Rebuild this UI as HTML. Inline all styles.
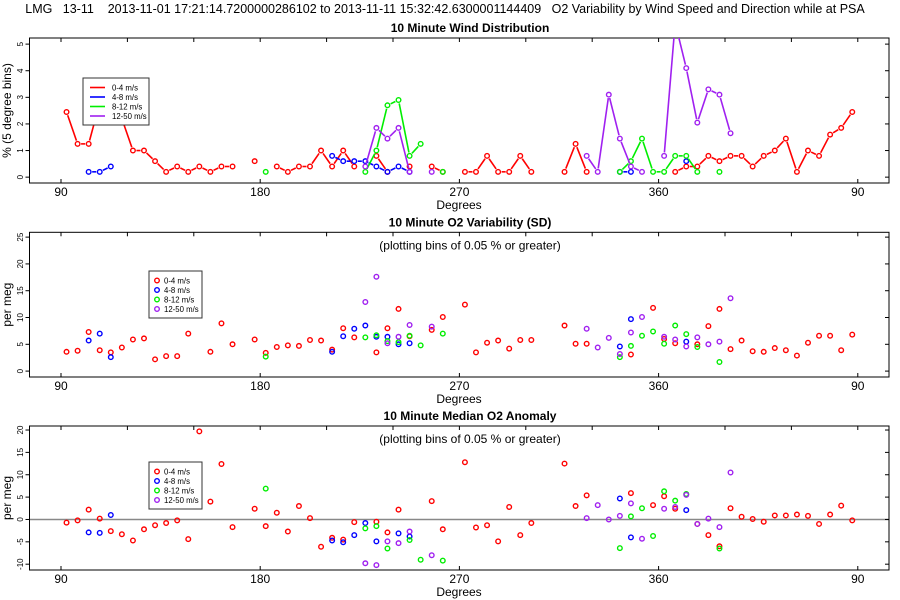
<!DOCTYPE html>
<html><head><meta charset="utf-8"><style>
html,body{margin:0;padding:0;background:#fff;}
svg{display:block;font-family:"Liberation Sans",sans-serif;}
</style></head><body>
<svg id="chart" width="900" height="600" viewBox="0 0 900 600" xmlns="http://www.w3.org/2000/svg">
<text x="445" y="13" font-size="12.5" text-anchor="middle" style="white-space:pre" xml:space="preserve">LMG   13-11    2013-11-01 17:21:14.7200000286102 to 2013-11-11 15:32:42.6300001144409   O2 Variability by Wind Speed and Direction while at PSA</text>
</svg>
<script>
// ---- data (degree bins, 5-degree centers; values > 360 wrap past north) ----
const seriesNames = ["0-4 m/s","4-8 m/s","8-12 m/s","12-50 m/s"];
const seriesColors = ["#ff0000","#0000ff","#00ee00","#a020f0"];
const xTickLabels = ["90","180","270","360","90"];
const xTickDegrees = [90,180,270,360,450];

// Panel 1: wind distribution (% per 5-degree bin)
const distRedDeg = [92.5,97.5,102.5,107.5,112.5,117.5,122.5,127.5,132.5,137.5,142.5,147.5,152.5,157.5,162.5,167.5,177.5,187.5,192.5,197.5,202.5,207.5,212.5,217.5,222.5,232.5,237.5,247.5,257.5,262.5,272.5,277.5,282.5,287.5,292.5,297.5,302.5,317.5,322.5,327.5,367.5,372.5,377.5,382.5,387.5,392.5,397.5,402.5,407.5,412.5,417.5,422.5,427.5,432.5,437.5,442.5,447.5];
const distRedVal = [2.45,1.25,1.25,2.8,2.6,2.2,1.0,1.0,0.6,0.2,0.4,0.2,0.4,0.2,0.4,0.4,0.6,0.4,0.2,0.4,0.4,1.0,0.4,1.0,0.4,0.8,0.2,0.4,0.4,0.2,0.2,0.2,0.8,0.2,0.2,0.8,0.2,0.2,1.25,0.2,0.2,0.4,0.4,0.8,0.6,0.8,0.8,0.4,0.8,1.0,1.45,0.2,1.0,0.8,1.6,1.85,2.45];
const distBlueDeg = [102.5,107.5,112.5,212.5,217.5,222.5,227.5,232.5,237.5,242.5,247.5,342.5,347.5,372.5];
const distBlueVal = [0.2,0.2,0.4,0.8,0.6,0.6,0.6,0.4,0.2,0.4,0.2,0.2,0.2,0.6];
const distGreenDeg = [182.5,227.5,232.5,237.5,242.5,247.5,252.5,262.5,342.5,347.5,352.5,357.5,362.5,367.5,372.5,377.5,387.5];
const distGreenVal = [0.2,0.2,1.0,2.7,2.9,0.8,1.25,0.2,0.2,0.6,1.45,0.2,0.2,0.8,0.8,0.2,0.2];
const distPurpleDeg = [227.5,232.5,237.5,242.5,247.5,257.5,327.5,332.5,337.5,342.5,347.5,352.5,362.5,367.5,372.5,377.5,382.5,387.5,392.5];
const distPurpleVal = [0.4,1.85,1.45,1.85,0.2,0.2,0.8,0.2,3.1,1.45,0.4,0.2,0.8,5.8,4.1,2.05,3.3,3.1,1.65];

// Panel 2: O2 variability (SD, per meg)
const sdRedDeg = [92.5,97.5,102.5,107.5,112.5,117.5,122.5,127.5,132.5,137.5,142.5,147.5,157.5,162.5,167.5,177.5,182.5,187.5,192.5,197.5,202.5,207.5,212.5,217.5,222.5,232.5,237.5,242.5,247.5,257.5,262.5,272.5,277.5,282.5,287.5,292.5,297.5,302.5,317.5,322.5,327.5,347.5,357.5,362.5,367.5,377.5,382.5,387.5,392.5,397.5,402.5,407.5,412.5,417.5,422.5,427.5,432.5,437.5,442.5,447.5];
const sdRedVal = [3.6,3.8,7.3,3.9,3.5,4.4,5.9,6.1,2.2,2.8,2.8,7.0,3.6,8.9,5.0,5.9,3.4,4.5,4.8,4.7,5.8,5.7,4.0,8.0,6.3,3.5,8.0,11.6,6.5,7.7,10.1,12.4,3.5,5.3,5.7,4.2,5.8,5.8,8.5,5.1,5.1,3.1,11.8,6.0,5.2,5.0,8.4,11.6,4.1,5.7,3.7,3.6,4.3,3.9,2.9,5.3,6.6,6.6,3.9,6.8];
const sdBlueDeg = [102.5,107.5,112.5,212.5,217.5,222.5,227.5,232.5,237.5,242.5,247.5,342.5,347.5,372.5];
const sdBlueVal = [5.7,7.0,2.6,3.6,6.5,7.9,8.5,6.4,6.4,5.0,5.2,4.6,9.7,5.5];
const sdGreenDeg = [182.5,227.5,232.5,237.5,242.5,247.5,252.5,262.5,342.5,347.5,352.5,357.5,362.5,367.5,372.5,377.5,387.5];
const sdGreenVal = [2.7,6.3,6.7,5.6,5.4,6.6,4.8,7.0,2.6,4.7,6.6,7.4,5.1,8.5,6.9,4.5,1.7];
const sdPurpleDeg = [227.5,232.5,237.5,242.5,247.5,257.5,327.5,332.5,337.5,342.5,347.5,352.5,362.5,367.5,372.5,377.5,382.5,387.5,392.5];
const sdPurpleVal = [12.9,17.6,5.2,6.4,8.6,8.3,7.9,4.4,6.2,3.2,7.2,10.1,6.4,5.9,4.6,6.3,5.0,5.5,13.6];

// Panel 3: median O2 anomaly (per meg)
const anRedDeg = [92.5,97.5,102.5,107.5,112.5,117.5,122.5,127.5,132.5,137.5,142.5,147.5,152.5,157.5,162.5,167.5,177.5,182.5,187.5,192.5,197.5,202.5,207.5,212.5,217.5,222.5,232.5,237.5,242.5,257.5,262.5,272.5,277.5,282.5,287.5,292.5,297.5,302.5,317.5,322.5,327.5,347.5,357.5,362.5,367.5,377.5,382.5,387.5,392.5,397.5,402.5,407.5,412.5,417.5,422.5,427.5,432.5,437.5,442.5,447.5];
const anRedVal = [-0.7,-0.2,2.2,0.2,-2.6,-3.3,-4.7,-2.2,-1.3,-0.8,-0.2,-4.4,19.7,4.0,12.4,-1.7,2.4,-1.5,1.5,-2.7,3.0,0.3,-6.1,-4.1,-4.5,-0.6,-0.5,-2.9,2.2,4.1,-2.2,12.8,-1.8,-1.3,-4.9,2.8,-3.5,-0.8,12.5,3.0,5.4,5.9,3.2,5.2,2.4,-1.0,-3.5,-6.0,2.5,0.6,0.1,-0.5,0.9,0.9,1.1,0.8,-1.0,1.1,3.1,-0.2];
const anBlueDeg = [102.5,107.5,112.5,212.5,217.5,222.5,227.5,232.5,242.5,247.5,342.5,347.5,372.5];
const anBlueVal = [-2.9,-3.0,1.0,-4.7,-5.1,-3.5,-0.8,-4.9,-3.1,-3.8,4.7,-4.0,2.1];
const anGreenDeg = [182.5,227.5,232.5,237.5,247.5,252.5,262.5,342.5,347.5,352.5,357.5,362.5,367.5,372.5,387.5];
const anGreenVal = [6.9,-2.0,-1.5,-6.5,-4.6,-9.0,-9.2,-6.4,0.7,2.5,-3.7,6.3,4.2,5.7,-6.5];
const anPurpleDeg = [227.5,232.5,237.5,242.5,247.5,257.5,327.5,332.5,337.5,342.5,347.5,352.5,362.5,367.5,372.5,377.5,382.5,387.5,392.5];
const anPurpleVal = [-9.8,-10.2,-4.9,-5.3,-2.7,-8.0,0.3,3.2,0.0,0.8,3.6,-4.3,2.4,2.8,5.5,-1.0,0.2,-1.7,10.5];

// ---- drawing ----
const NS = "http://www.w3.org/2000/svg";
const svg = document.getElementById('chart');
const L = 29.5, R = 889;
function xs(d){ return 61 + (d-90)*2.2133; }
function mk(tag, attrs, parent){
  const e = document.createElementNS(NS, tag);
  for (const k in attrs) e.setAttribute(k, attrs[k]);
  (parent||svg).appendChild(e);
  return e;
}
function txt(s, attrs, parent){ const e = mk('text', attrs, parent); e.textContent = s; return e; }
const defs = mk('defs', {});

const panels = [
  {top:38, bot:183, ymin:-0.22, ymax:5.23, yticks:[0,1,2,3,4,5], title:"10 Minute Wind Distribution", ylab:"% (5 degree bins)", lines:true, sub:false, zero:false,
   data:[[distRedDeg,distRedVal],[distBlueDeg,distBlueVal],[distGreenDeg,distGreenVal],[distPurpleDeg,distPurpleVal]], legend:[83,78,66,47], name:"wind-distribution"},
  {top:232.3, bot:377, ymin:-1.1, ymax:25.9, yticks:[0,5,10,15,20,25], title:"10 Minute O2 Variability (SD)", ylab:"per meg", lines:false, sub:true, zero:false,
   data:[[sdRedDeg,sdRedVal],[sdBlueDeg,sdBlueVal],[sdGreenDeg,sdGreenVal],[sdPurpleDeg,sdPurpleVal]], legend:[149,271,53,47], name:"o2-variability"},
  {top:426, bot:570, ymin:-11.3, ymax:20.9, yticks:[-10,-5,0,5,10,15,20], title:"10 Minute Median O2 Anomaly", ylab:"per meg", lines:false, sub:true, zero:true,
   data:[[anRedDeg,anRedVal],[anBlueDeg,anBlueVal],[anGreenDeg,anGreenVal],[anPurpleDeg,anPurpleVal]], legend:[149,462,53,47], name:"o2-anomaly"}
];

panels.forEach((p, pi) => {
  const g = mk('g', {});
  
  
  const cp = mk('clipPath', {id:'clip'+pi}, defs);
  mk('rect', {x:L, y:p.top, width:R-L, height:p.bot-p.top}, cp);
  const ys = v => p.bot - (v - p.ymin) / (p.ymax - p.ymin) * (p.bot - p.top);
  const t = txt(p.title, {x:470, y:p.top-6, 'font-size':12, 'font-weight':'bold', 'text-anchor':'middle'}, g);
  
  
  if (p.sub) {
    const s = txt("(plotting bins of 0.05 % or greater)", {x:470, y:p.top+17, 'font-size':12, 'text-anchor':'middle'}, g);
    
    
  }
  if (p.zero) {
    const z = mk('line', {x1:L, x2:R, y1:ys(0), y2:ys(0), stroke:'#888', 'stroke-width':1.5}, g);
    
    
  }
  const frame = mk('rect', {x:L, y:p.top, width:R-L, height:p.bot-p.top, fill:'none', stroke:'#000', 'stroke-width':1}, g);
  
  
  for (let d = 90; d <= 450; d += 30) {
    mk('line', {x1:xs(d), x2:xs(d), y1:p.top, y2:p.top+4, stroke:'#000'}, g);
  }
  xTickDegrees.forEach((d,i) => {
    mk('line', {x1:xs(d), x2:xs(d), y1:p.bot, y2:p.bot-4, stroke:'#000'}, g);
    const l = txt(xTickLabels[i], {x:xs(d), y:p.bot+13, 'font-size':12, 'text-anchor':'middle'}, g);
    
    
  });
  const xl = txt("Degrees", {x:459, y:p.bot+26, 'font-size':12, 'text-anchor':'middle'}, g);
  
  
  p.yticks.forEach(v => {
    const y = ys(v);
    mk('line', {x1:L-4, x2:L, y1:y, y2:y, stroke:'#000'}, g);
    mk('line', {x1:R-4, x2:R, y1:y, y2:y, stroke:'#000'}, g);
    const l = txt(String(v), {x:0, y:0, 'font-size':8, 'text-anchor':'middle', transform:`translate(23,${y}) rotate(-90)`}, g);
    
    
  });
  const yl = txt(p.ylab, {x:0, y:0, 'font-size':12, 'text-anchor':'middle', transform:`translate(11,${(p.top+p.bot)/2}) rotate(-90)`}, g);
  
  
  const plotG = mk('g', {'clip-path':'url(#clip'+pi+')'}, g);
  p.data.forEach((sd, si) => {
    const [degs, vals] = sd;
    const col = seriesColors[si];
    const sg = mk('g', {}, plotG);
    
    
    const pts = degs.map((d,i) => [xs(d), ys(vals[i]), d]);
    if (p.lines) {
      for (let i = 0; i < pts.length-1; i++) {
        if (Math.abs(pts[i+1][2] - pts[i][2] - 5) > 0.1) continue;
        const [x1,y1] = pts[i], [x2,y2] = pts[i+1];
        const len = Math.hypot(x2-x1, y2-y1), gap = 3.5;
        if (len <= 2*gap) continue;
        const ux = (x2-x1)/len, uy = (y2-y1)/len;
        mk('line', {x1:x1+ux*gap, y1:y1+uy*gap, x2:x2-ux*gap, y2:y2-uy*gap, stroke:col, 'stroke-width':1.6}, sg);
      }
    }
    pts.forEach(pt => {
      const c = mk('circle', {cx:pt[0], cy:pt[1], r:2.3, fill:'none', stroke:col, 'stroke-width':1.4}, sg);
      
      
    });
  });
  const [lx, ly, lw, lh] = p.legend;
  const lg = mk('g', {}, g);
  
  
  mk('rect', {x:lx, y:ly, width:lw, height:lh, fill:'#fff', stroke:'#333', 'stroke-width':1}, lg);
  seriesNames.forEach((n, i) => {
    const y = ly + 9.5 + i*9.5;
    const e = mk('g', {}, lg);
    
    
    if (p.lines) {
      mk('line', {x1:lx+7, x2:lx+22, y1:y, y2:y, stroke:seriesColors[i], 'stroke-width':1.6}, e);
      txt(n, {x:lx+29, y:y+3, 'font-size':7.8}, e);
    } else {
      mk('circle', {cx:lx+8, cy:y, r:2.3, fill:'none', stroke:seriesColors[i], 'stroke-width':1.4}, e);
      txt(n, {x:lx+15, y:y+3, 'font-size':7.8}, e);
    }
  });
});
</script>
</body></html>
